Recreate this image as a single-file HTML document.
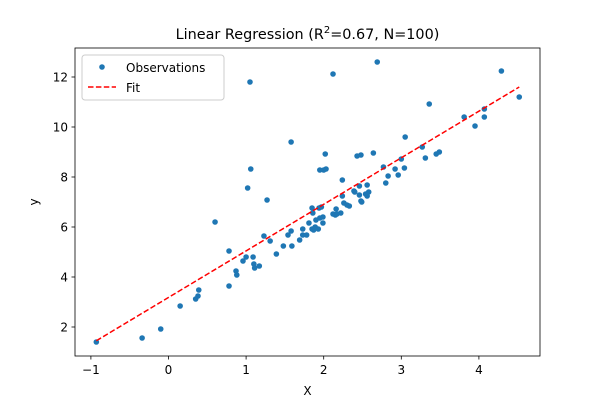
<!DOCTYPE html>
<html><head><meta charset="utf-8"><style>
body{margin:0;background:#fff;}
svg{display:block;font-family:"DejaVu Sans","Liberation Sans",sans-serif;}
</style></head><body>
<svg id="chart" width="600" height="400">
<rect width="600" height="400" fill="#fff"/>
<text x="307.5" y="39" text-anchor="middle" font-size="14.4" fill="#000">Linear Regression (R<tspan font-size="10" dy="-6">2</tspan><tspan dy="6">=0.67, N=100)</tspan></text>
<g id="plot"></g>
<rect x="75" y="48" width="465" height="308" fill="none" stroke="#000" stroke-width="0.8"/>
<g id="ticks"></g>
<text x="307.5" y="395" text-anchor="middle" font-size="12">X</text>
<text x="0" y="0" transform="translate(38,202) rotate(-90)" text-anchor="middle" font-size="12">y</text>
<g>
<rect x="82" y="55" width="142" height="45" rx="3" fill="#fff" fill-opacity="0.8" stroke="#ccc" stroke-width="1"/>
<circle cx="102" cy="67" r="2.8" fill="#1f77b4"/>
<text x="126" y="72" font-size="12">Observations</text>
<line x1="88" y1="87" x2="116" y2="87" stroke="red" stroke-width="1.5" stroke-dasharray="5.5,2.4"/>
<text x="126" y="92" font-size="12">Fit</text>
</g>
</svg>
<script>
const xs=[-0.93,-0.34,-0.10,0.15,0.35,0.38,0.39,0.60,0.78,0.78,0.87,0.88,0.96,1.0,1.05,1.02,1.06,1.09,1.10,1.11,1.17,1.23,1.27,1.31,1.39,1.48,1.58,1.54,1.58,1.59,1.69,1.73,1.73,1.78,1.81,1.85,1.86,1.85,1.87,1.89,1.90,1.93,1.94,1.97,1.95,1.99,1.99,1.95,2.0,2.03,2.02,2.12,2.12,2.15,2.17,2.16,2.22,2.24,2.24,2.26,2.30,2.33,2.39,2.40,2.43,2.48,2.46,2.46,2.48,2.49,2.54,2.56,2.58,2.56,2.64,2.69,2.77,2.80,2.83,2.92,2.96,3.0,3.04,3.05,3.27,3.31,3.36,3.45,3.49,3.81,3.95,4.07,4.07,4.29,4.52];
const ys=[1.4,1.56,1.92,2.84,3.12,3.24,3.48,6.2,5.04,3.64,4.24,4.08,4.64,4.8,11.8,7.56,8.32,4.8,4.52,4.36,4.44,5.64,7.08,5.44,4.92,5.24,9.4,5.68,5.84,5.24,5.48,5.92,5.68,5.68,6.16,6.76,6.56,5.92,5.88,6.0,6.28,5.92,6.76,6.8,6.36,6.4,6.16,8.28,8.28,8.32,8.92,12.12,6.52,6.48,6.52,6.72,6.56,7.24,7.88,6.96,6.88,6.84,7.44,7.4,8.84,8.88,7.64,7.28,7.04,7.0,7.32,7.24,7.4,7.68,8.96,12.6,8.4,7.76,8.04,8.32,8.08,8.72,8.36,9.6,9.2,8.76,10.92,8.92,9.0,10.4,10.04,10.4,10.72,12.24,11.2];
const fitX=[-0.93,4.52];
const fitY=[1.45,11.6];
const xTicks=[-1,0,1,2,3,4];
const yTicks=[2,4,6,8,10,12];
const NS="http://www.w3.org/2000/svg";
const X=v=>168.5+v*77.6;
const Y=v=>327-(v-2)*25;
const plot=document.getElementById('plot'),tk=document.getElementById('ticks');
function mk(tag,at,parent){const e=document.createElementNS(NS,tag);for(const k in at)e.setAttribute(k,at[k]);parent.appendChild(e);return e;}
xs.forEach((x,i)=>{const c=mk('circle',{cx:X(x),cy:Y(ys[i]),r:2.8,fill:'#1f77b4'},plot);

});
const fl=mk('line',{x1:X(fitX[0]),y1:Y(fitY[0]),x2:X(fitX[1]),y2:Y(fitY[1]),stroke:'red','stroke-width':1.5,'stroke-dasharray':'5.5,2.4'},plot);


xTicks.forEach(t=>{const l=mk('line',{x1:X(t),x2:X(t),y1:356,y2:359.5,stroke:'#000','stroke-width':0.8},tk);


const s=mk('text',{x:X(t),y:374,'text-anchor':'middle','font-size':12},tk);s.textContent=t<0?'\u2212'+(-t):t;

});
yTicks.forEach(t=>{const l=mk('line',{x1:71.5,x2:75,y1:Y(t),y2:Y(t),stroke:'#000','stroke-width':0.8},tk);


const s=mk('text',{x:68,y:Y(t)+4.5,'text-anchor':'end','font-size':12},tk);s.textContent=t;

});
</script>
</body></html>
